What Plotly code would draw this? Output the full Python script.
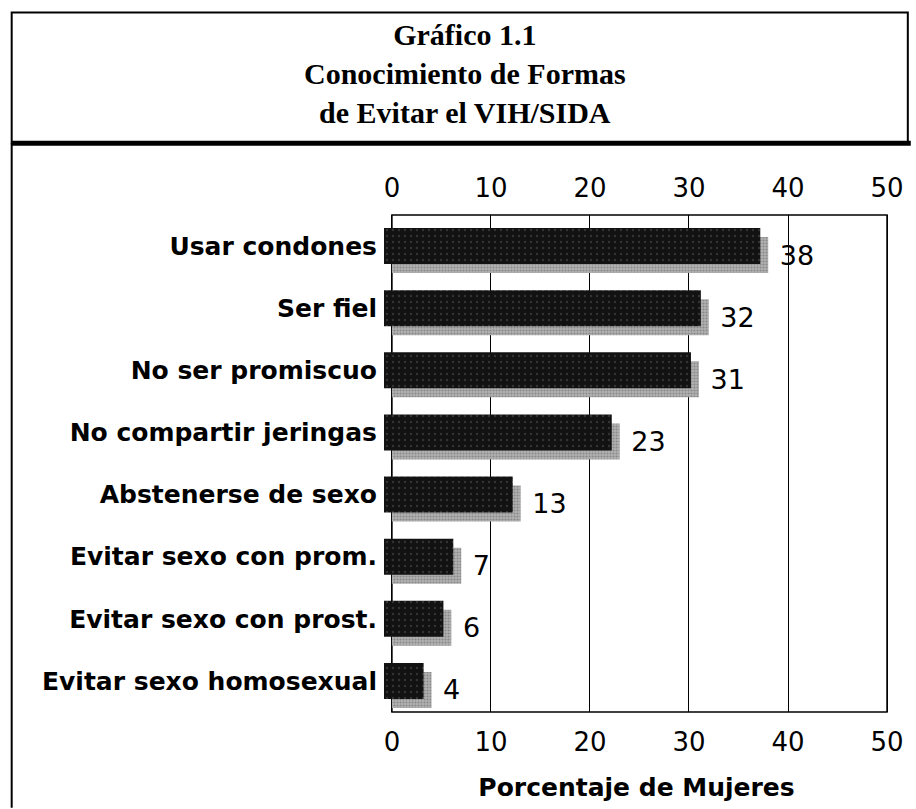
import plotly.graph_objects as go

# ---- data ----
categories = ["Usar condones", "Ser fiel", "No ser promiscuo", "No compartir jeringas",
              "Abstenerse de sexo", "Evitar sexo con prom.", "Evitar sexo con prost.",
              "Evitar sexo homosexual"]
values = [38, 32, 31, 23, 13, 7, 6, 4]
tick_vals = [0, 10, 20, 30, 40, 50]
tick_text = ["0", "10", "20", "30", "40", "50"]
title_lines = ["Gráfico 1.1", "Conocimiento de Formas", "de Evitar el VIH/SIDA"]
axis_title = "Porcentaje de Mujeres"

# ---- layout geometry ----
W, H = 916, 809
ML, MR, MT, MB = 384, 22, 215, 96
PW, PH = W - ML - MR, H - MT - MB
X_MIN, X_MAX = -0.8, 50.2
DEPTH = 0.8          # 3D depth of the bars in data units
BAR_W = 0.578
SHIFT = 0.145


def pxx(x):
    return (x - ML) / PW


def pxy(y):
    return (H - MB - y) / PH


SANS = "DejaVu Sans"
SERIF = "Liberation Serif"

fig = go.Figure()

# shadow / depth face
fig.add_trace(go.Bar(
    y=categories, x=values, base=0, orientation="h",
    width=BAR_W, offset=-BAR_W / 2 + SHIFT,
    marker=dict(color="#a0a0a0", line=dict(width=0),
                pattern=dict(shape=".", fgcolor="#5e5e5e", bgcolor="#b2b2b2", size=3, solidity=0.4)),
    text=values, texttemplate="\u00a0%{x}", textposition="outside",
    constraintext="none", cliponaxis=False,
    textfont=dict(family=SANS, size=27, color="black"),
    hoverinfo="skip", showlegend=False,
))
# front face (on the top axis, drawn above the depth face)
fig.add_trace(go.Bar(
    y=categories, x=values, base=[-DEPTH] * len(values), orientation="h", xaxis="x2",
    width=BAR_W, offset=-BAR_W / 2,
    marker=dict(color="#121212", line=dict(width=0),
                pattern=dict(shape=".", fgcolor="#555555", bgcolor="#121212", size=6, solidity=0.12)),
    cliponaxis=False, hoverinfo="skip", showlegend=False,
))

axis_common = dict(
    range=[X_MIN, X_MAX], tickvals=tick_vals, ticktext=tick_text,
    tickfont=dict(family=SANS, size=26, color="black"),
    ticks="", zeroline=False, showline=False, ticklabelstandoff=12,
)

fig.update_layout(
    width=W, height=H,
    margin=dict(l=ML, r=MR, t=MT, b=MB, pad=0),
    paper_bgcolor="white", plot_bgcolor="white",
    barmode="overlay",
    xaxis=dict(**axis_common, showgrid=True, gridcolor="black", gridwidth=1,
               title=dict(text=axis_title, font=dict(family=SANS, size=25, color="black", weight="bold"),
                          standoff=22)),
    xaxis2=dict(**axis_common, overlaying="x", side="top", anchor="y", showgrid=False),
    yaxis=dict(categoryorder="array", categoryarray=categories, range=[7.5, -0.5],
               showgrid=False, zeroline=False, showline=False, ticks="",
               ticklabelstandoff=6,
               tickfont=dict(family=SANS, size=25, color="black", weight="bold")),
)

# plot frame (top and bottom lines between 0 and 50)
fig.add_shape(type="rect", xref="x", yref="paper", x0=0, x1=50, y0=0, y1=1,
              line=dict(color="black", width=1.5), layer="below")

# outer page frame
fig.add_shape(type="rect", xref="paper", yref="paper",
              x0=pxx(8), x1=pxx(913), y0=pxy(12), y1=pxy(143),
              line=dict(color="black", width=2))
fig.add_shape(type="line", xref="paper", yref="paper",
              x0=pxx(8), x1=pxx(916), y0=pxy(143), y1=pxy(143),
              line=dict(color="black", width=5))
fig.add_shape(type="line", xref="paper", yref="paper",
              x0=pxx(8), x1=pxx(8), y0=pxy(143), y1=pxy(809),
              line=dict(color="black", width=2))

# title (one text block, three lines)
fig.add_annotation(text="<b>" + "<br>".join(title_lines) + "</b>", xref="paper", yref="paper",
                   x=pxx(466), y=pxy(73), xanchor="center", yanchor="middle", align="center",
                   showarrow=False, font=dict(family=SERIF, size=30, color="black"))

fig.write_html("out.html", config={"displayModeBar": False},
               post_script="document.body.style.margin='0';")
